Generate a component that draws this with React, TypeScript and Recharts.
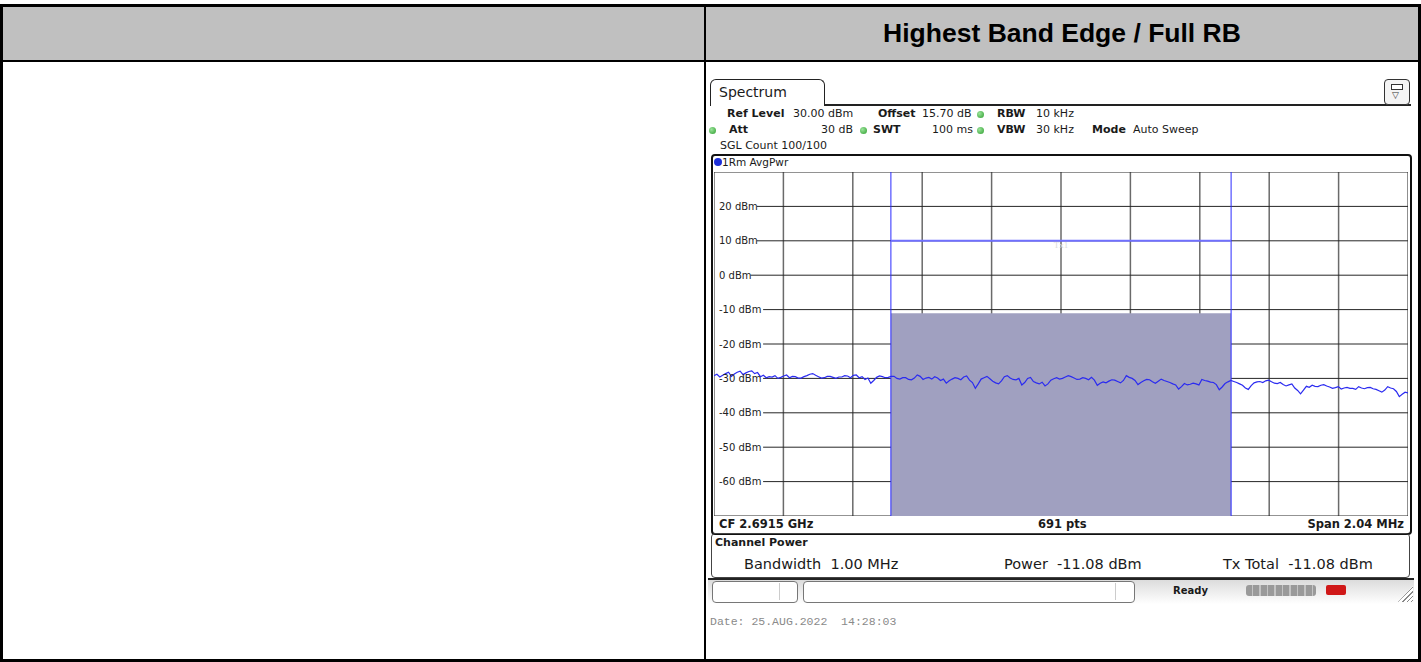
import React from "react";
import {
  ComposedChart,
  Line,
  XAxis,
  YAxis,
  CartesianGrid,
  ReferenceArea,
  ReferenceLine,
} from "recharts";

// ─── Measurement settings ────────────────────────────────
const CENTER_GHZ = 2.6915;
const SPAN_MHZ = 2.04;
const SWEEP_POINTS = 691;
const CHANNEL_BW_MHZ = 1.0;
const CHANNEL_POWER_DBM = -11.08;
const TX_TOTAL_DBM = -11.08;
const CHANNEL_BAR_DBM = 10;
const REF_LEVEL_DBM = 30;
const BOTTOM_DBM = -70;

// y labels shown on screen, and grid levels
const levelLabels = [20, 10, 0, -10, -20, -30, -40, -50, -60];
const gridLevels = [30, 20, 10, 0, -10, -20, -30, -40, -50, -60, -70];
const freqDivisions = [0, 1, 2, 3, 4, 5, 6, 7, 8, 9, 10];

// trace, left to right (dBm)
const traceLeft = [
  -29.2, -28.8, -29.6, -29.1, -28.6, -28.2, -29.4, -28.7, -28.2, -27.9,
  -28.9, -28.4, -28.0, -27.8, -28.6, -28.3, -29.5, -29.1, -29.8, -29.5,
  -29.6, -29.2, -30.0, -29.7, -29.3, -29.0, -29.8, -29.4, -29.5, -29.9,
  -29.9, -29.5, -29.2, -28.8, -28.6, -29.1, -29.5, -29.9, -29.8, -29.4,
  -29.4, -29.7, -30.0, -29.6, -29.6, -29.2, -29.3, -29.8, -29.1, -29.0,
  -29.8, -29.5, -30.3, -29.9, -31.4, -30.6, -29.7, -29.3, -29.5, -29.8,
];
const traceChannelA = [
  -29.7, -29.4, -29.4, -30.0, -30.2, -29.8, -29.8, -30.3, -30.4, -29.9,
  -29.0, -29.4, -30.3, -29.9, -29.7, -30.2, -29.5, -29.9, -30.6, -30.2,
  -31.4, -30.7, -30.2, -29.8, -30.0, -30.4, -29.6, -29.3, -30.5, -31.2,
  -32.9, -31.6, -30.2, -29.8, -29.4, -30.1, -30.8, -31.3, -31.6, -30.7,
  -29.5, -29.2, -29.9, -30.3, -30.4, -30.0, -31.9, -31.2, -30.0, -29.7,
  -30.9, -31.3, -31.6, -31.1, -32.2, -31.6, -30.5, -30.1, -29.8, -30.2,
];
const traceChannelB = [
  -30.0, -29.6, -29.2, -29.5, -29.9, -30.3, -30.2, -29.8, -30.0, -30.4,
  -29.7, -30.5, -32.0, -31.4, -31.0, -31.3, -30.8, -30.4, -30.5, -30.9,
  -31.3, -30.6, -29.2, -29.7, -30.0, -30.6, -31.8, -31.2, -30.7, -30.3,
  -30.4, -31.0, -31.4, -30.8, -30.2, -30.6, -30.9, -31.2, -31.6, -31.9,
  -33.1, -32.4, -31.5, -31.9, -31.7, -31.4, -31.6, -31.9, -30.3, -30.6,
  -30.8, -31.1, -31.2, -31.8, -33.3, -32.5, -31.5, -31.0, -30.6, -30.9,
];
const traceRight = [
  -31.2, -31.6, -32.0, -32.8, -33.2, -32.1, -31.3, -31.0, -30.9, -31.2,
  -30.7, -30.5, -31.0, -31.4, -31.5, -31.2, -31.8, -32.2, -31.9, -31.6,
  -32.8, -33.5, -34.5, -33.4, -32.3, -32.6, -32.0, -32.3, -32.4, -32.0,
  -31.8, -32.2, -32.5, -32.9, -32.7, -32.4, -33.1, -32.8, -32.6, -32.9,
  -32.9, -33.2, -32.4, -32.8, -33.0, -32.7, -32.6, -33.0, -33.2, -33.6,
  -34.0, -33.4, -32.4, -32.8, -33.0, -33.8, -35.3, -34.6, -34.0, -34.2,
];

const traceLevels = [...traceLeft, ...traceChannelA, ...traceChannelB, ...traceRight];
const traceData = traceLevels.map((level, i) => ({
  freq: -SPAN_MHZ / 2 + (i / (traceLevels.length - 1)) * SPAN_MHZ,
  level,
}));
const freqTicks = freqDivisions.map((k) => -SPAN_MHZ / 2 + (k * SPAN_MHZ) / 10);

const SMALL = "'DejaVu Sans', Verdana, sans-serif";
const CHART_W = 694;
const CHART_H = 344;

const labelFor = (v: number) => `${v} dBm`;
const labelWidth = (v: number) => 5 + labelFor(v).length * 6.3;

// ─── Y tick: label drawn inside the diagram ──────────────
function LevelTick(props: any) {
  const { y, payload } = props;
  if (!levelLabels.includes(payload.value)) return null;
  return (
    <text x={5} y={y} dominantBaseline="central" fontSize={10} fill="#222" fontFamily={SMALL}>
      {labelFor(payload.value)}
    </text>
  );
}

// horizontal grid line starts after its level label
function LevelLine(props: any) {
  const { x1, x2, y1, y2 } = props;
  const level = Math.round(REF_LEVEL_DBM - ((y1 - 0) / CHART_H) * (REF_LEVEL_DBM - BOTTOM_DBM));
  const start = levelLabels.includes(level) ? x1 + labelWidth(level) : x1;
  return <line x1={start} x2={x2} y1={y1} y2={y2} stroke="#262626" strokeWidth={1} />;
}

// grid positions: same linear mapping as the chart's axes
const vertGen = (p: any) => {
  const o = p?.offset ?? { left: 0, width: CHART_W };
  return freqTicks.map((f) => o.left + ((f + SPAN_MHZ / 2) / SPAN_MHZ) * o.width);
};
const horzGen = (p: any) => {
  const o = p?.offset ?? { top: 0, height: CHART_H };
  return gridLevels.map(
    (v) => o.top + ((REF_LEVEL_DBM - v) / (REF_LEVEL_DBM - BOTTOM_DBM)) * o.height
  );
};

const abs = (l: number, t: number, extra: React.CSSProperties = {}): React.CSSProperties => ({
  position: "absolute",
  left: l,
  top: t,
  ...extra,
});

function Dot({ l, t }: { l: number; t: number }) {
  return (
    <div
      style={abs(l, t, {
        width: 7,
        height: 7,
        borderRadius: "50%",
        background: "radial-gradient(circle at 35% 35%, #9be49b, #2e9e2e)",
      })}
    />
  );
}

function Txt({ l, t, children, bold, size = 11, color = "#1a1a1a", font = SMALL, right }: any) {
  return (
    <div
      style={abs(l, t, {
        fontSize: size,
        fontWeight: bold ? 700 : 400,
        color,
        fontFamily: font,
        whiteSpace: "pre",
        lineHeight: "13px",
        ...(right ? { transform: "translateX(-100%)" } : {}),
      })}
    >
      {children}
    </div>
  );
}

export default function App() {
  return (
    <div style={{ position: "relative", width: 1421, height: 662, background: "#fff", overflow: "hidden" }}>
      <style>{`body{margin:0}`}</style>

      {/* table frame */}
      <div style={abs(0, 7, { width: 1421, height: 53, background: "#c0c0c0" })} />
      <div style={abs(0, 4, { width: 1421, height: 3, background: "#000" })} />
      <div style={abs(0, 60, { width: 1421, height: 2, background: "#000" })} />
      <div style={abs(0, 659, { width: 1421, height: 3, background: "#000" })} />
      <div style={abs(0, 4, { width: 3, height: 658, background: "#000" })} />
      <div style={abs(1418, 4, { width: 3, height: 658, background: "#000" })} />
      <div style={abs(704, 4, { width: 2, height: 658, background: "#000" })} />
      <div
        style={abs(706, 7, {
          width: 712,
          height: 53,
          display: "flex",
          alignItems: "center",
          justifyContent: "center",
          fontFamily: "'Liberation Sans', Arial, sans-serif",
          fontWeight: 700,
          fontSize: 26.5,
          color: "#000",
        })}
      >
        Highest Band Edge / Full RB
      </div>

      {/* analyzer window */}
      <div
        style={abs(710, 79, {
          width: 113,
          height: 26,
          border: "1.5px solid #222",
          borderBottom: "none",
          borderRadius: "6px 6px 0 0",
          background: "#fff",
        })}
      />
      <div style={abs(824, 104, { width: 587, height: 1.5, background: "#222" })} />
      <Txt l={719} t={86} size={14}>Spectrum</Txt>
      <div
        style={abs(1384, 79, {
          width: 24,
          height: 24,
          border: "1.5px solid #333",
          borderRadius: 4,
          background: "#f4f4f4",
        })}
      >
        <div style={abs(6, 4, { width: 10, height: 4, border: "1.5px solid #333", background: "#fff" })} />
        <div style={abs(7, 11, { fontSize: 9, lineHeight: "9px", color: "#333" })}>▽</div>
      </div>

      <Txt l={727} t={107} bold>Ref Level</Txt>
      <Txt l={793} t={107}>30.00 dBm</Txt>
      <Txt l={878} t={107} bold>Offset</Txt>
      <Txt l={922} t={107}>15.70 dB</Txt>
      <Dot l={977} t={111} />
      <Txt l={997} t={107} bold>RBW</Txt>
      <Txt l={1036} t={107}>10 kHz</Txt>

      <Dot l={709} t={127} />
      <Txt l={729} t={123} bold>Att</Txt>
      <Txt l={821} t={123}>30 dB</Txt>
      <Dot l={860} t={127} />
      <Txt l={873} t={123} bold>SWT</Txt>
      <Txt l={932} t={123}>100 ms</Txt>
      <Dot l={977} t={127} />
      <Txt l={997} t={123} bold>VBW</Txt>
      <Txt l={1036} t={123}>30 kHz</Txt>
      <Txt l={1092} t={123} bold>Mode</Txt>
      <Txt l={1133} t={123}>Auto Sweep</Txt>

      <Txt l={720} t={139}>SGL Count 100/100</Txt>

      {/* diagram frame */}
      <div
        style={abs(711, 154, {
          width: 697,
          height: 377,
          border: "2px solid #111",
          borderRadius: 4,
        })}
      />
      <div style={abs(714, 158, { width: 8, height: 8, borderRadius: "50%", background: "#1d2fd8" })} />
      <Txt l={722} t={156} size={10.5}>1Rm AvgPwr</Txt>

      <div style={abs(714, 172, { width: CHART_W, height: CHART_H })}>
        <ComposedChart
          width={CHART_W}
          height={CHART_H}
          data={traceData}
          margin={{ top: 0, right: 0, bottom: 0, left: 0 }}
        >
          <XAxis
            dataKey="freq"
            type="number"
            domain={[-SPAN_MHZ / 2, SPAN_MHZ / 2]}
            ticks={freqTicks}
            hide
          />
          <YAxis
            type="number"
            domain={[BOTTOM_DBM, REF_LEVEL_DBM]}
            ticks={gridLevels}
            mirror
            axisLine={false}
            tickLine={false}
            tick={<LevelTick />}
            interval={0}
          />
          <CartesianGrid
            horizontal={false}
            stroke="#6a6a6a"
            strokeWidth={1.5}
            verticalCoordinatesGenerator={vertGen}
          />
          <CartesianGrid
            vertical={false}
            horizontal={(p: any) => <LevelLine key={p.key} {...p} />}
            horizontalCoordinatesGenerator={horzGen}
          />
          <ReferenceArea
            x1={-CHANNEL_BW_MHZ / 2}
            x2={CHANNEL_BW_MHZ / 2}
            y1={BOTTOM_DBM}
            y2={CHANNEL_POWER_DBM}
            fill="#a0a0c0"
            fillOpacity={1}
            stroke="none"
          />
          <ReferenceLine x={-CHANNEL_BW_MHZ / 2} stroke="#2a2aff" strokeWidth={1} />
          <ReferenceLine x={CHANNEL_BW_MHZ / 2} stroke="#2a2aff" strokeWidth={1} />
          <ReferenceLine
            segment={[
              { x: -CHANNEL_BW_MHZ / 2, y: CHANNEL_BAR_DBM },
              { x: CHANNEL_BW_MHZ / 2, y: CHANNEL_BAR_DBM },
            ]}
            stroke="#7070ff"
            strokeWidth={2}
            label={{ value: "Tx1", position: "insideBottom", dy: 12, fill: "#dcdcdc", fontSize: 9 }}
          />
          <Line
            dataKey="level"
            type="linear"
            stroke="#2b2bf0"
            strokeWidth={1.2}
            dot={false}
            isAnimationActive={false}
          />
        </ComposedChart>
      </div>

      <Txt l={719} t={518} bold size={11.5}>{`CF ${CENTER_GHZ} GHz`}</Txt>
      <Txt l={1038} t={518} bold size={11.5}>{`${SWEEP_POINTS} pts`}</Txt>
      <Txt l={1404} t={518} bold size={11.5} right>{`Span ${SPAN_MHZ} MHz`}</Txt>

      {/* channel power result */}
      <div
        style={abs(711, 533, {
          width: 697,
          height: 43,
          border: "1.5px solid #444",
          borderRadius: 4,
        })}
      />
      <Txt l={715} t={536} bold size={11}>Channel Power</Txt>
      <Txt l={744} t={558} size={14.5}>Bandwidth  1.00 MHz</Txt>
      <Txt l={1004} t={558} size={14.5}>{`Power  ${CHANNEL_POWER_DBM.toFixed(2)} dBm`}</Txt>
      <Txt l={1223} t={558} size={14.5}>{`Tx Total  ${TX_TOTAL_DBM.toFixed(2)} dBm`}</Txt>

      {/* status bar */}
      <div style={abs(708, 578, { width: 706, height: 2.5, background: "#222" })} />
      <div
        style={abs(708, 580, {
          width: 706,
          height: 24,
          background: "linear-gradient(#dcdcdc, #ffffff)",
        })}
      />
      <div style={abs(712, 581, { width: 84, height: 20, border: "1px solid #777", borderRadius: 4, background: "#fff" })} />
      <div style={abs(779, 583, { width: 1, height: 17, background: "#ccc" })} />
      <div style={abs(803, 581, { width: 330, height: 20, border: "1px solid #777", borderRadius: 4, background: "#fff" })} />
      <div style={abs(1115, 583, { width: 1, height: 17, background: "#ccc" })} />
      <Txt l={1173} t={584} bold size={10}>Ready</Txt>
      <div
        style={abs(1246, 585, {
          width: 70,
          height: 11,
          borderRadius: 3,
          background: "repeating-linear-gradient(90deg, #9a9a9a 0 6px, #c4c4c4 6px 7.5px)",
        })}
      />
      <div style={abs(1326, 585, { width: 20, height: 10, background: "#d01818", borderRadius: 2 })} />
      <div
        style={abs(1398, 586, {
          width: 15,
          height: 16,
          background: "repeating-linear-gradient(135deg, #fff 0 2px, #888 2px 3px)",
          clipPath: "polygon(100% 0, 100% 100%, 0 100%)",
        })}
      />

      <Txt l={710} t={615} size={11.5} color="#8a8a8a" font="'Liberation Mono', 'Courier New', monospace">
        Date: 25.AUG.2022  14:28:03
      </Txt>
    </div>
  );
}
